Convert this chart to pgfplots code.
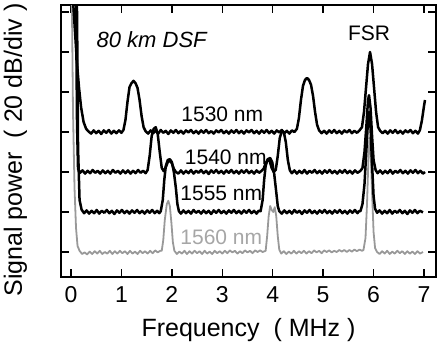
\documentclass[border=0pt]{standalone}
\usepackage{fontspec}
\setmainfont{Liberation Sans}
\usepackage{pgfplots}
\pgfplotsset{compat=1.18}
\begin{document}
\begin{tikzpicture}
\useasboundingbox (0,0) rectangle (437pt,348pt);
\begin{axis}[
  at={(61pt,71pt)}, anchor=south west,
  scale only axis, width=375pt, height=272pt,
  xmin=-0.198, xmax=7.238, ymin=-0.625, ymax=6.175,
  xtick={0,1,2,3,4,5,6,7}, ytick={0,1,2,3,4,5,6}, yticklabels={},
  tick align=inside, major tick length=8pt,
  every tick/.style={line width=1.5pt, black},
  axis line style={line width=2pt},
  /pgf/number format/assume math mode=true,
  xticklabel style={font=\fontsize{23}{27}\selectfont, anchor=base, yshift=-26pt},
  xlabel={Frequency\ \ ( MHz )},
  ylabel={Signal power\ \ ( 20 dB/div )},
  label style={font=\fontsize{25}{30}\selectfont},
  xlabel style={at={(axis description cs:0.5,-0.217)}, anchor=base, inner sep=0pt},
  ylabel style={at={(axis description cs:-0.104,0.467)}, anchor=base, inner sep=0pt},
  clip=true,
]
% 1560 nm (gray)
\addplot[black!40, line width=1.8pt, line join=round] coordinates {
(0,7) (0.02,6) (0.04,3.5) (0.07,1.6) (0.1,0.6) (0.13,0.15) (0.17,0.03) (0.22,-0.05)
(0.27,-0.01) (0.32,-0.06) (0.37,0.01) (0.42,-0.05) (0.47,0.02) (0.52,-0.04) (0.57,0.03) (0.62,-0.05)
(0.67,0.0) (0.72,-0.04) (0.77,0.03) (0.82,-0.05) (0.87,0.02) (0.92,-0.04) (0.97,0.03) (1.02,-0.03)
(1.07,0.02) (1.12,-0.05) (1.17,0.03) (1.22,-0.04) (1.27,0.01) (1.32,-0.05) (1.37,0.03) (1.42,-0.03)
(1.47,0.02) (1.52,-0.04) (1.57,0.03) (1.62,-0.03) (1.67,0.04) (1.72,-0.01) (1.77,0.03)
(1.8,0.03) (1.83,0.3) (1.86,0.8) (1.9,1.2) (1.93,1.28) (1.96,1.15) (1.99,0.75) (2.02,0.25) (2.05,0.03)
(2.1,-0.05) (2.15,0.01) (2.2,-0.04) (2.25,0.03) (2.3,-0.05) (2.35,0.02) (2.4,-0.04) (2.45,0.03)
(2.5,-0.03) (2.55,0.02) (2.6,-0.05) (2.65,0.03) (2.7,-0.04) (2.75,0.01) (2.8,-0.05) (2.85,0.03)
(2.9,-0.03) (2.95,0.02) (3.0,-0.04) (3.05,0.03) (3.1,-0.03) (3.15,0.04) (3.2,-0.01) (3.25,0.03)
(3.3,-0.04) (3.35,0.02) (3.4,-0.03) (3.45,0.04) (3.5,-0.01) (3.55,0.03) (3.6,-0.03) (3.65,0.04)
(3.7,0.0) (3.75,0.04) (3.8,0.0) (3.86,0.03)
(3.89,0.4) (3.92,0.9) (3.95,1.15) (3.98,1.05) (4.01,1.0) (4.04,1.12) (4.07,0.9) (4.1,0.4) (4.13,0.06)
(4.17,-0.04) (4.22,0.02) (4.27,-0.05) (4.32,0.01) (4.37,-0.04) (4.42,0.03) (4.47,-0.04) (4.52,0.02)
(4.57,-0.03) (4.62,0.03) (4.67,-0.04) (4.72,0.02) (4.77,-0.03) (4.82,0.04) (4.87,-0.01) (4.92,0.03)
(4.97,-0.03) (5.02,0.04) (5.07,0.0) (5.12,0.04) (5.17,-0.01) (5.22,0.03) (5.27,0.0) (5.32,0.05)
(5.37,0.01) (5.42,0.05) (5.47,0.0) (5.52,0.05) (5.57,0.01) (5.62,0.06) (5.67,0.02) (5.72,0.06) (5.77,0.03)
(5.8,0.05) (5.84,0.35) (5.87,1.2) (5.9,2.4) (5.92,2.85) (5.94,2.6) (5.97,1.5) (6.0,0.5) (6.03,0.1) (6.07,0.0)
(6.12,-0.05) (6.17,0.02) (6.22,-0.04) (6.27,0.03) (6.32,-0.05) (6.37,0.01) (6.42,-0.04) (6.47,0.03)
(6.52,-0.03) (6.57,0.02) (6.62,-0.05) (6.67,0.02) (6.72,-0.04) (6.77,0.01) (6.82,-0.05) (6.87,0.02)
(6.92,-0.04) (6.98,0.0)
};
% 1555 nm
\addplot[black, line width=2.5pt, line join=round] coordinates {
(0,7) (0.08,7) (0.12,6) (0.14,2.6) (0.17,1.3) (0.21,1.06) (0.26,0.97)
(0.31,1.04) (0.36,0.96) (0.41,1.03) (0.46,0.97) (0.51,1.05) (0.56,0.96) (0.61,1.03) (0.66,0.98)
(0.71,1.05) (0.76,0.97) (0.81,1.03) (0.86,0.95) (0.91,1.04) (0.96,0.98) (1.01,1.05) (1.06,0.97)
(1.11,1.03) (1.16,0.96) (1.21,1.04) (1.26,0.98) (1.31,1.05) (1.36,0.97) (1.41,1.03) (1.46,0.96)
(1.51,1.04) (1.56,0.98) (1.61,1.05) (1.66,0.97) (1.71,1.03) (1.75,0.97)
(1.78,1.02) (1.82,1.3) (1.85,1.8) (1.88,2.15) (1.92,2.3) (1.96,2.32) (2.0,2.25) (2.04,2.0) (2.08,1.6) (2.11,1.2) (2.14,1.02) (2.18,0.96)
(2.23,1.04) (2.28,0.97) (2.33,1.03) (2.38,0.96) (2.43,1.05) (2.48,0.98) (2.53,1.03) (2.58,0.96)
(2.63,1.04) (2.68,0.97) (2.73,1.03) (2.78,0.95) (2.83,1.04) (2.88,0.98) (2.93,1.05) (2.98,0.97)
(3.03,1.03) (3.08,0.96) (3.13,1.04) (3.18,0.98) (3.23,1.05) (3.28,0.97) (3.33,1.03) (3.38,0.96)
(3.43,1.04) (3.48,0.98) (3.53,1.05) (3.58,0.97) (3.63,1.03) (3.68,0.96) (3.72,1.03)
(3.76,1.02) (3.8,1.3) (3.83,1.8) (3.86,2.15) (3.9,2.32) (3.95,2.35) (3.99,2.25) (4.03,1.95) (4.07,1.5) (4.1,1.15) (4.13,1.02)
(4.18,0.96) (4.23,1.04) (4.28,0.97) (4.33,1.03) (4.38,0.96) (4.43,1.05) (4.48,0.98) (4.53,1.03)
(4.58,0.95) (4.63,1.04) (4.68,0.98) (4.73,1.05) (4.78,0.97) (4.83,1.03) (4.88,0.96) (4.93,1.04)
(4.98,0.98) (5.03,1.05) (5.08,0.97) (5.13,1.03) (5.18,0.96) (5.23,1.04) (5.28,0.98) (5.33,1.05)
(5.38,0.97) (5.43,1.03) (5.48,0.96) (5.53,1.04) (5.58,0.98) (5.63,1.05) (5.68,0.97) (5.71,1.02)
(5.74,1.02) (5.78,1.2) (5.82,1.7) (5.86,2.6) (5.89,3.3) (5.91,3.5) (5.94,3.1) (5.97,2.2) (6.0,1.4) (6.03,1.08) (6.07,0.98)
(6.12,1.04) (6.17,0.96) (6.22,1.03) (6.27,0.97) (6.32,1.05) (6.37,0.96) (6.42,1.03) (6.47,0.98)
(6.52,1.05) (6.57,0.97) (6.62,1.03) (6.67,0.95) (6.72,1.04) (6.77,0.98) (6.82,1.05) (6.87,0.97)
(6.92,1.03) (6.98,0.99)
};
% 1540 nm
\addplot[black, line width=2.5pt, line join=round] coordinates {
(0,7) (0.06,7) (0.1,6.2) (0.12,3.2) (0.14,2.08) (0.18,1.98) (0.23,2.04) (0.28,1.96) (0.33,2.03)
(0.38,1.97) (0.43,2.05) (0.48,1.98) (0.53,2.03) (0.58,1.96) (0.63,2.04) (0.68,1.97) (0.73,2.03)
(0.78,1.96) (0.83,2.05) (0.88,1.98) (0.93,2.03) (0.98,1.96) (1.03,2.04) (1.08,1.97) (1.13,2.04)
(1.18,1.96) (1.23,2.03) (1.28,1.97) (1.33,2.05) (1.38,1.98) (1.43,2.03) (1.48,1.97)
(1.52,2.05) (1.56,2.4) (1.6,2.9) (1.64,3.08) (1.68,3.12) (1.72,2.95) (1.76,2.5) (1.8,2.1) (1.84,2.02)
(1.88,2.12) (1.92,2.25) (1.96,2.28) (2.0,2.22) (2.04,2.08) (2.08,2.0) (2.13,1.96)
(2.18,2.04) (2.23,1.96) (2.28,2.03) (2.33,1.97) (2.38,2.05) (2.43,1.96) (2.48,2.03) (2.53,1.98)
(2.58,2.05) (2.63,1.97) (2.68,2.03) (2.73,1.95) (2.78,2.04) (2.83,1.98) (2.88,2.05) (2.93,1.97)
(2.98,2.03) (3.03,1.96) (3.08,2.04) (3.13,1.98) (3.18,2.05) (3.23,1.97) (3.28,2.03) (3.33,1.96)
(3.38,2.04) (3.43,1.98) (3.48,2.05) (3.53,1.97) (3.58,2.03) (3.63,1.96) (3.68,2.04) (3.73,1.98) (3.78,2.03)
(3.82,2.08) (3.86,2.22) (3.9,2.3) (3.94,2.27) (3.98,2.1) (4.02,2.0) (4.06,2.05) (4.1,2.4) (4.14,2.85)
(4.18,3.02) (4.22,3.0) (4.26,2.75) (4.3,2.3) (4.34,2.04)
(4.38,1.97) (4.43,2.04) (4.48,1.96) (4.53,2.03) (4.58,1.97) (4.63,2.05) (4.68,1.96) (4.73,2.03)
(4.78,1.98) (4.83,2.05) (4.88,1.97) (4.93,2.03) (4.98,1.96) (5.03,2.04) (5.08,1.98) (5.13,2.05)
(5.18,1.97) (5.23,2.03) (5.28,1.96) (5.33,2.04) (5.38,1.98) (5.43,2.05) (5.48,1.97) (5.53,2.03)
(5.58,1.96) (5.63,2.04) (5.68,1.98) (5.74,2.03)
(5.78,2.1) (5.82,2.5) (5.86,3.2) (5.89,3.8) (5.91,3.92) (5.94,3.6) (5.97,2.9) (6.0,2.3) (6.04,2.05)
(6.08,1.97) (6.13,2.04) (6.18,1.96) (6.23,2.03) (6.28,1.97) (6.33,2.05) (6.38,1.96) (6.43,2.03)
(6.48,1.98) (6.53,2.05) (6.58,1.97) (6.63,2.03) (6.68,1.96) (6.73,2.04) (6.78,1.98) (6.83,2.05)
(6.88,1.97) (6.93,2.03) (6.98,1.96) (7.02,2.0)
};
% 1530 nm
\addplot[black, line width=2.5pt, line join=round] coordinates {
(0,7) (0.04,6.3) (0.08,5.5) (0.12,4.7) (0.16,4.1) (0.2,3.62) (0.25,3.25) (0.3,3.08) (0.35,3.01)
(0.4,2.96) (0.45,3.04) (0.5,2.97) (0.55,3.03) (0.6,2.95) (0.65,3.04) (0.7,2.98) (0.75,3.05)
(0.8,2.96) (0.85,3.03) (0.9,2.97) (0.95,3.04) (1.0,2.98) (1.04,3.05)
(1.08,3.3) (1.12,3.75) (1.16,4.12) (1.2,4.22) (1.24,4.28) (1.28,4.22) (1.32,4.1) (1.36,3.8) (1.4,3.4) (1.44,3.12) (1.48,3.02)
(1.53,2.96) (1.58,3.04) (1.63,2.97) (1.68,3.03) (1.73,2.96) (1.78,3.05) (1.83,2.98) (1.88,3.03)
(1.93,2.95) (1.98,3.04) (2.03,2.98) (2.08,3.05) (2.13,2.97) (2.18,3.03) (2.23,2.96) (2.28,3.04)
(2.33,2.99) (2.38,3.05) (2.43,2.97) (2.48,3.03) (2.53,2.96) (2.58,3.04) (2.63,2.98) (2.68,3.05)
(2.73,2.97) (2.78,3.02) (2.83,2.96) (2.88,3.04) (2.93,2.99) (2.98,3.05) (3.03,2.97) (3.08,3.03)
(3.13,2.96) (3.18,3.04) (3.23,2.98) (3.28,3.05) (3.33,2.97) (3.38,3.03) (3.43,2.96) (3.48,3.04)
(3.53,2.99) (3.58,3.05) (3.63,2.97) (3.68,3.03) (3.73,2.96) (3.78,3.04) (3.83,2.98) (3.88,3.05)
(3.93,2.97) (3.98,3.03) (4.03,2.96) (4.08,3.04) (4.13,2.99) (4.18,3.05) (4.23,2.97) (4.28,3.03)
(4.33,2.96) (4.38,3.04) (4.43,3.0)
(4.48,3.08) (4.52,3.35) (4.56,3.8) (4.6,4.15) (4.64,4.3) (4.68,4.35) (4.72,4.3) (4.76,4.18) (4.8,3.9) (4.84,3.5) (4.88,3.18) (4.92,3.04)
(4.97,2.97) (5.02,3.03) (5.07,2.96) (5.12,3.04) (5.17,2.98) (5.22,3.05) (5.27,2.97) (5.32,3.03)
(5.37,2.96) (5.42,3.04) (5.47,2.99) (5.52,3.05) (5.57,2.97) (5.62,3.03) (5.67,2.98) (5.72,3.04)
(5.77,3.12) (5.81,3.5) (5.85,4.1) (5.89,4.7) (5.93,5.0) (5.97,4.7) (6.01,4.1) (6.05,3.5) (6.09,3.12)
(6.13,3.03) (6.18,2.97) (6.23,3.03) (6.28,2.96) (6.33,3.04) (6.38,2.98) (6.43,3.05) (6.48,2.97)
(6.53,3.03) (6.58,2.96) (6.63,3.04) (6.68,2.99) (6.73,3.05) (6.78,2.97) (6.83,3.03) (6.88,2.96)
(6.92,3.05) (6.96,3.3) (7.0,3.65) (7.02,3.8)
};
\node[font=\fontsize{22}{26}\selectfont\itshape] at (axis cs:1.6,5.3) {80 km DSF};
\node[font=\fontsize{21}{25}\selectfont] at (axis cs:5.91,5.48) {FSR};
\node[font=\fontsize{21}{25}\selectfont] at (axis cs:3.0,3.45) {1530 nm};
\node[font=\fontsize{21}{25}\selectfont] at (axis cs:3.07,2.38) {1540 nm};
\node[font=\fontsize{21}{25}\selectfont] at (axis cs:2.98,1.47) {1555 nm};
\node[font=\fontsize{21}{25}\selectfont, text=black!35] at (axis cs:2.98,0.37) {1560 nm};
\end{axis}
\end{tikzpicture}
\end{document}
